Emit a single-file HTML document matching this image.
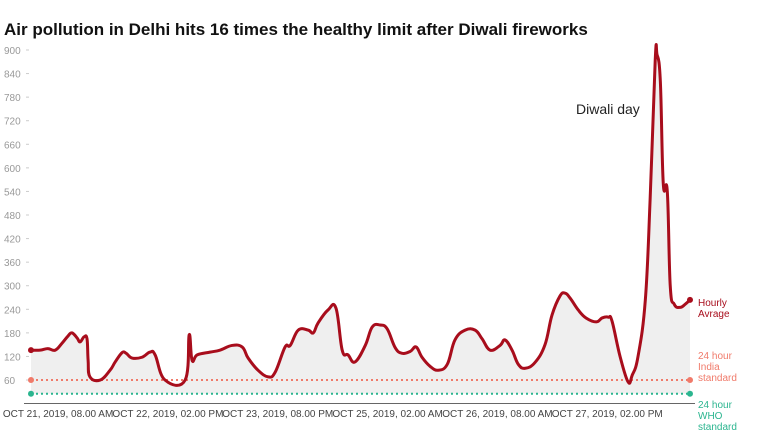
<!DOCTYPE html>
<html><head><meta charset="utf-8"><style>
body{margin:0;background:#fff;font-family:"Liberation Sans",sans-serif}
</style></head><body>
<svg width="759" height="437" id="c">
<text x="4" y="35" font-size="17" font-weight="bold" fill="#111">Air pollution in Delhi hits 16 times the healthy limit after Diwali fireworks</text>
</svg>
<script>
const hours=[0,2.5,4.6,6.6,8.5,10.1,11.2,12.6,13.4,14.5,15.3,15.6,16.1,18.9,21.6,23,24.9,26,27.6,30.3,32.5,33.9,36.6,42.1,43.2,44,45.4,48.9,51.6,54.9,57.7,59.3,62,64.8,66.7,69.4,70.8,73,75.7,77.1,78.4,81.1,83.3,85,86.6,88.5,91.3,93.2,95.4,97.3,99.5,101.4,103.6,105.2,106.8,109,111.2,113.7,115.8,118.6,121.3,123.2,125.4,128.1,129.5,131.4,133.1,135,137.7,140.4,142.3,144.5,145.9,147.3,149.5,151.6,154.4,156,157.7,158.7,160.9,163.1,164.2,165.8,167.8,169.1,170.5,171,171.9,172.7,173.8,174.6,175.7,177.3,178.7,180];
const values=[136,136,140,136,154,172,180,167,157,170,165,110,68,60,85,106,130,128,116,118,131,124,60,60,175,110,124,131,136,148,144,116,85,68,80,144,148,187,187,180,205,238,243,136,124,106,148,195,200,190,142,128,133,144,118,95,85,100,162,187,187,165,136,148,162,136,100,90,105,150,225,274,281,268,238,218,208,218,220,210,120,55,72,120,264,518,874,888,820,560,540,300,253,245,253,264];
const yTicks=[60,120,180,240,300,360,420,480,540,600,660,720,780,840,900];
const xTickLabels=["OCT 21, 2019, 08.00 AM","OCT 22, 2019, 02.00 PM","OCT 23, 2019, 08.00 PM","OCT 25, 2019, 02.00 AM","OCT 26, 2019, 08.00 AM","OCT 27, 2019, 02.00 PM"];
const xTickHours=[7.4,37.4,67.4,97.4,127.4,157.4];
const indiaStd=60, whoStd=25;
const svg=document.getElementById('c'),NS='http://www.w3.org/2000/svg';
const X=h=>31+h*(659/180), Y=v=>403.6-v*0.3929;
function mk(t,a,p){const e=document.createElementNS(NS,t);for(const k in a)e.setAttribute(k,a[k]);(p||svg).appendChild(e);return e;}
yTicks.forEach(v=>{
 const t=mk('text',{x:4,y:Y(v)+4,'font-size':10,fill:'#999'});t.textContent=v;
 
 
 const l=mk('line',{x1:26,x2:29,y1:Y(v),y2:Y(v),stroke:'#ccc'});
 
 
});
const ax=mk('line',{x1:24,x2:695,y1:403.5,y2:403.5,stroke:'#666'});


xTickLabels.forEach((s,i)=>{
 const t=mk('text',{x:X(xTickHours[i]),y:417,'font-size':10,fill:'#444','text-anchor':'middle'});t.textContent=s;
 
 
});
const pts=hours.map((h,i)=>[X(h),Y(values[i])]);
let d='M'+pts[0][0]+','+pts[0][1];
for(let i=0;i<pts.length-1;i++){const p0=pts[Math.max(0,i-1)],p1=pts[i],p2=pts[i+1],p3=pts[Math.min(pts.length-1,i+2)];
 const k=0.2;d+=` C${p1[0]+(p2[0]-p0[0])*k},${p1[1]+(p2[1]-p0[1])*k} ${p2[0]-(p3[0]-p1[0])*k},${p2[1]-(p3[1]-p1[1])*k} ${p2[0]},${p2[1]}`;}
const area=mk('path',{d:d+` L${X(180)},${Y(whoStd)} L${X(0)},${Y(whoStd)} Z`,fill:'#efefef'});


[[indiaStd,'#f07a6a','india-standard-line'],[whoStd,'#2bb58f','who-standard-line']].forEach(([v,c,n])=>{
 const l=mk('line',{x1:X(0),x2:X(180),y1:Y(v),y2:Y(v),stroke:c,'stroke-width':2,'stroke-dasharray':'2,3'});
 
 
 [0,180].forEach(h=>{const e=mk('circle',{cx:X(h),cy:Y(v),r:3,fill:c});
  
  });
});
const line=mk('path',{d:d,fill:'none',stroke:'#a80d1c','stroke-width':3,'stroke-linejoin':'round'});


[0,180].forEach(h=>{const e=mk('circle',{cx:pts[h?pts.length-1:0][0],cy:pts[h?pts.length-1:0][1],r:3,fill:'#a80d1c'});
 
 });
function lab(lines,x,y,c,n){lines.forEach((s,i)=>{const t=mk('text',{x:x,y:y+i*11,'font-size':10,fill:c});t.textContent=s;
 
 });}
lab(['Hourly','Avrage'],698,306,'#a80d1c','hourly-label');
lab(['24 hour','India','standard'],698,359,'#f07a6a','india-label');
lab(['24 hour','WHO','standard'],698,408,'#2bb58f','who-label');
const ann=mk('text',{x:576,y:114,'font-size':14,fill:'#222'});ann.textContent='Diwali day';


</script>
</body></html>
